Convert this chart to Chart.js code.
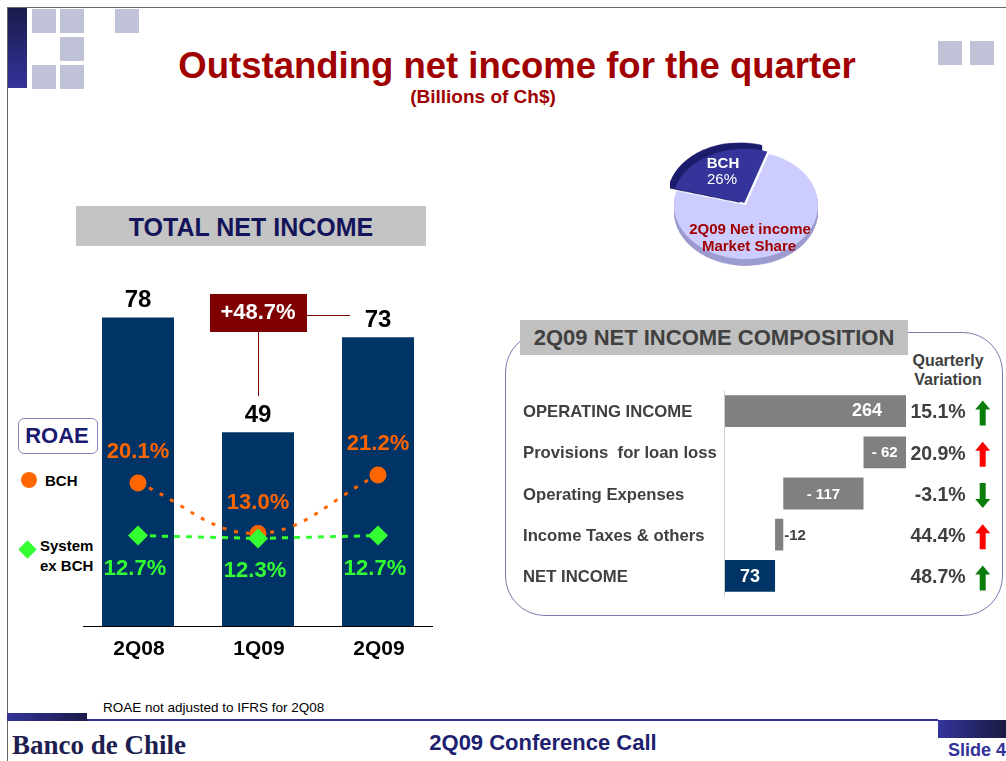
<!DOCTYPE html>
<html>
<head>
<meta charset="utf-8">
<script src="https://cdn.jsdelivr.net/npm/chart.js@4.4.0/dist/chart.umd.min.js"></script>
<style>
  body { margin: 0; background: #fff; }
  #slide { position: relative; width: 1006px; height: 761px; overflow: hidden; background: #fff;
           font-family: Arial, "Liberation Sans", sans-serif; }
  .abs { position: absolute; }
  .sq { position: absolute; width: 24px; height: 24px; background: #c0c2d8; }
  .t { position: absolute; transform: translate(-50%, -50%); white-space: nowrap; font-weight: bold; }
  .tl { position: absolute; transform: translateY(-50%); white-space: nowrap; }
  canvas { position: absolute; }
</style>
</head>
<body>
<div id="slide">
  <!-- frame and decoration -->
  <div class="abs" style="left:7px;top:7px;width:999px;height:1px;background:#666"></div>
  <div class="abs" style="left:7px;top:7px;width:1px;height:754px;background:#666"></div>
  <div class="abs" style="left:8px;top:8px;width:19px;height:80px;background:linear-gradient(#1a1a4a,#34349c)"></div>
  <div class="sq" style="left:32px;top:9px"></div>
  <div class="sq" style="left:60px;top:9px"></div>
  <div class="sq" style="left:115px;top:9px"></div>
  <div class="sq" style="left:60px;top:37px"></div>
  <div class="sq" style="left:32px;top:65px"></div>
  <div class="sq" style="left:60px;top:65px"></div>
  <div class="sq" style="left:938px;top:41px"></div>
  <div class="sq" style="left:970px;top:41px"></div>

  <div class="t" style="left:517px;top:66px;font-size:36.5px;color:#a00000">Outstanding net income for the quarter</div>
  <div class="t" style="left:483px;top:97px;font-size:19px;color:#a00000">(Billions of Ch$)</div>

  <!-- left block -->
  <div class="abs" style="left:76px;top:206px;width:350px;height:40px;background:#c4c4c4"></div>
  <div class="t" style="left:251px;top:227px;font-size:25px;color:#14145a">TOTAL NET INCOME</div>

  <div class="abs" style="left:18px;top:418px;width:78px;height:34px;border:1px solid #8888bb;border-radius:6px"></div>
  <div class="t" style="left:57px;top:436px;font-size:22px;color:#1a1a6e">ROAE</div>
  <div class="abs" style="left:21px;top:472px;width:16px;height:16px;border-radius:50%;background:#ff6600"></div>
  <div class="tl" style="left:45px;top:480px;font-size:15px;font-weight:bold">BCH</div>
  <div class="abs" style="left:21px;top:543px;width:13px;height:13px;background:#33ff33;transform:rotate(45deg)"></div>
  <div class="tl" style="left:40px;top:545px;font-size:15px;font-weight:bold">System</div>
  <div class="tl" style="left:40px;top:565px;font-size:15px;font-weight:bold">ex BCH</div>

  <canvas id="incomeChart" width="360" height="400" style="left:78px;top:270px"></canvas>

  <!-- pie -->
  <canvas id="shareChart" width="174" height="180" style="left:659px;top:118px;transform-origin:87px 87px;transform:scaleY(0.75)"></canvas>
  <div class="t" style="left:723px;top:162px;font-size:15px;color:#fff">BCH</div>
  <div class="t" style="left:722px;top:178px;font-size:15px;color:#fff;font-weight:normal">26%</div>
  <div class="t" style="left:750px;top:228px;font-size:15px;color:#a00000">2Q09 Net income</div>
  <div class="t" style="left:749px;top:245px;font-size:15px;color:#a00000">Market Share</div>

  <!-- composition block -->
  <div class="abs" style="left:505px;top:332px;width:496px;height:282px;border:1.5px solid #7a7ab0;border-radius:40px"></div>
  <div class="abs" style="left:520px;top:320px;width:388px;height:35px;background:#c0c0c0"></div>
  <div class="t" style="left:714px;top:338px;font-size:22px;color:#404040">2Q09 NET INCOME COMPOSITION</div>
  <div class="t" style="left:948px;top:361px;font-size:16px;color:#404040">Quarterly</div>
  <div class="t" style="left:948px;top:380px;font-size:16px;color:#404040">Variation</div>

  <canvas id="compChart" width="501" height="230" style="left:505px;top:380px"></canvas>

  <!-- footer -->
  <div class="tl" style="left:103px;top:707px;font-size:13.5px">ROAE not adjusted to IFRS for 2Q08</div>
  <div class="abs" style="left:7px;top:713px;width:80px;height:8px;background:linear-gradient(90deg,#34349c,#1a1a4a)"></div>
  <div class="abs" style="left:87px;top:719px;width:851px;height:2px;background:#333399"></div>
  <div class="abs" style="left:938px;top:720px;width:68px;height:18px;background:linear-gradient(90deg,#34349c,#1a1a40)"></div>
  <div class="tl" style="left:12px;top:745px;font-size:27px;font-weight:bold;color:#1e1e50;font-family:'Liberation Serif',serif">Banco de Chile</div>
  <div class="t" style="left:543px;top:743px;font-size:22px;color:#1f1f6f">2Q09 Conference Call</div>
  <div class="tl" style="left:948px;top:750px;font-size:18px;font-weight:bold;color:#333399">Slide 4</div>
</div>

<script>
// ---- data ----
var quarters = ["2Q08", "1Q09", "2Q09"];
var netIncome = [78, 49, 73];
var roaeBCH = [20.1, 13.0, 21.2];
var roaeSystem = [12.7, 12.3, 12.7];
var growthText = "+48.7%";

var shareLabels = ["BCH", "Others"];
var shareValues = [26, 74];

var compItems = ["OPERATING INCOME", "Provisions  for loan loss", "Operating Expenses", "Income Taxes & others", "NET INCOME"];
var compValues = [264, -62, -117, -12, 73];
var compText = ["264", "- 62", "- 117", "-12", "73"];
var compVariation = ["15.1%", "20.9%", "-3.1%", "44.4%", "48.7%"];
var varUp = [true, true, false, true, true];
var varGood = [true, false, true, false, true];

var FONT = "Arial, 'Liberation Sans', sans-serif";

// ---- left chart: bars + ROAE lines ----
var incomeLabels = {
  id: "incomeLabels",
  afterDatasetsDraw: function (chart) {
    var ctx = chart.ctx;
    var xs = chart.scales.x, ys = chart.scales.y, y1 = chart.scales.y1;
    var area = chart.chartArea;
    ctx.save();
    ctx.strokeStyle = "#000";
    ctx.lineWidth = 1;
    ctx.beginPath();
    ctx.moveTo(area.left + 5, area.bottom + 0.5);
    ctx.lineTo(area.right - 5, area.bottom + 0.5);
    ctx.stroke();

    ctx.textAlign = "center";
    ctx.textBaseline = "middle";
    quarters.forEach(function (q, i) {
      var x = xs.getPixelForValue(i);
      ctx.fillStyle = "#000";
      ctx.font = "bold 24px " + FONT;
      ctx.fillText(String(netIncome[i]), x, ys.getPixelForValue(netIncome[i]) - 17);
      ctx.font = "bold 21px " + FONT;
      ctx.fillText(q, x + 1, area.bottom + 23);
      ctx.font = "bold 22px " + FONT;
      ctx.fillStyle = "#ff6600";
      ctx.fillText(roaeBCH[i].toFixed(1) + "%", x, y1.getPixelForValue(roaeBCH[i]) - 31);
      ctx.fillStyle = "#33ff33";
      ctx.fillText(roaeSystem[i].toFixed(1) + "%", x - 3, y1.getPixelForValue(roaeSystem[i]) + 33);
    });

    // growth callout
    var cx = xs.getPixelForValue(1);
    var top = area.top + 24;
    ctx.fillStyle = "#7f0000";
    ctx.fillRect(cx - 48, top, 97, 38);
    ctx.strokeStyle = "#7f0000";
    ctx.beginPath();
    ctx.moveTo(cx + 49, top + 21.5);
    ctx.lineTo(cx + 92, top + 21.5);
    ctx.moveTo(cx + 0.5, top + 38);
    ctx.lineTo(cx + 0.5, ys.getPixelForValue(netIncome[1]) - 36);
    ctx.stroke();
    ctx.fillStyle = "#fff";
    ctx.font = "bold 22px " + FONT;
    ctx.fillText(growthText, cx, top + 19);
    ctx.restore();
  }
};

new Chart(document.getElementById("incomeChart"), {
  data: {
    labels: quarters,
    datasets: [
      {
        type: "line", label: "System ex BCH", data: roaeSystem, yAxisID: "y1",
        borderColor: "#33ff33", borderWidth: 3, borderDash: [6, 6],
        pointStyle: "rectRot", pointRadius: 10, pointBackgroundColor: "#33ff33",
        pointBorderWidth: 0, order: 0
      },
      {
        type: "line", label: "BCH", data: roaeBCH, yAxisID: "y1",
        borderColor: "#ff6600", borderWidth: 3, borderDash: [4, 8], tension: 0.4,
        pointRadius: 8.5, pointBackgroundColor: "#ff6600", pointBorderWidth: 0, order: 1
      },
      {
        type: "bar", label: "Net income", data: netIncome, yAxisID: "y",
        backgroundColor: "#003366", categoryPercentage: 0.6, barPercentage: 1, order: 2
      }
    ]
  },
  options: {
    responsive: false,
    animation: false,
    layout: { autoPadding: false, padding: { left: 0, right: 0, top: 0, bottom: 44 } },
    plugins: { legend: { display: false }, tooltip: { enabled: false } },
    scales: {
      x: { display: false },
      y: { display: false, min: 0, max: 90 },
      y1: { display: false, min: 0, max: 50 }
    }
  },
  plugins: [incomeLabels]
});

// ---- pie: market share ----
var pieDepth = {
  id: "pieDepth",
  beforeDatasetsDraw: function (chart) {
    var ctx = chart.ctx;
    var sideColors = ["#1c1c6c", "#9c9cd0"];
    chart.getDatasetMeta(0).data.forEach(function (arc, i) {
      var p = arc.getProps(["x", "y", "startAngle", "endAngle", "outerRadius"], true);
      var off = arc.options.offset || 0;
      var mid = (p.startAngle + p.endAngle) / 2;
      var x = p.x + Math.cos(mid) * off, y = p.y + Math.sin(mid) * off;
      ctx.save();
      ctx.fillStyle = sideColors[i];
      for (var d = 9; d > 0; d--) {
        ctx.beginPath();
        ctx.moveTo(x, y + d);
        ctx.arc(x, y + d, p.outerRadius, p.startAngle, p.endAngle);
        ctx.closePath();
        ctx.fill();
      }
      ctx.restore();
    });
  }
};

new Chart(document.getElementById("shareChart"), {
  type: "pie",
  data: {
    labels: shareLabels,
    datasets: [{
      data: shareValues,
      backgroundColor: ["#34349a", "#ccccff"],
      borderWidth: 0,
      offset: [14, 0]
    }]
  },
  options: {
    responsive: false,
    animation: false,
    rotation: -75,
    layout: { autoPadding: false, padding: { left: 8, right: 8, top: 8, bottom: 14 } },
    plugins: { legend: { display: false }, tooltip: { enabled: false } }
  },
  plugins: [pieDepth]
});

// ---- waterfall: net income composition ----
var running = 0;
var compBars = compValues.map(function (v, i) {
  if (i === compValues.length - 1) return [0, v];
  var seg = v >= 0 ? [running, running + v] : [running + v, running];
  running += v;
  return seg;
});

function drawArrow(ctx, x, y, up, color) {
  var s = up ? 1 : -1;
  ctx.fillStyle = color;
  ctx.beginPath();
  ctx.moveTo(x, y - 12.5 * s);
  ctx.lineTo(x + 7.5, y - 3.5 * s);
  ctx.lineTo(x + 3, y - 3.5 * s);
  ctx.lineTo(x + 3, y + 12.5 * s);
  ctx.lineTo(x - 3, y + 12.5 * s);
  ctx.lineTo(x - 3, y - 3.5 * s);
  ctx.lineTo(x - 7.5, y - 3.5 * s);
  ctx.closePath();
  ctx.fill();
}

var compDecor = {
  id: "compDecor",
  beforeDatasetsDraw: function (chart) {
    var ctx = chart.ctx, area = chart.chartArea;
    ctx.save();
    ctx.strokeStyle = "#cfcfcf";
    ctx.lineWidth = 1;
    ctx.beginPath();
    ctx.moveTo(area.left - 0.5, area.top);
    ctx.lineTo(area.left - 0.5, area.bottom);
    ctx.stroke();
    ctx.restore();
  },
  afterDatasetsDraw: function (chart) {
    var ctx = chart.ctx, area = chart.chartArea;
    ctx.save();
    ctx.textBaseline = "middle";
    chart.getDatasetMeta(0).data.forEach(function (bar, i) {
      var left = Math.min(bar.x, bar.base), right = Math.max(bar.x, bar.base);
      var cy = bar.y;
      ctx.textAlign = "left";
      ctx.fillStyle = "#404040";
      ctx.font = "bold 16.7px " + FONT;
      ctx.fillText(compItems[i], area.left - 202, cy + 1.5);

      ctx.font = (compValues[i] > 0 ? "bold 18px " : "bold 15px ") + FONT;
      var w = right - left;
      if (w < 20) {
        ctx.fillStyle = "#404040";
        ctx.fillText(compText[i], right + 1, cy + 1);
      } else if (w > 120) {
        ctx.fillStyle = "#fff";
        ctx.textAlign = "right";
        ctx.fillText(compText[i], right - 24, cy);
      } else {
        ctx.fillStyle = "#fff";
        ctx.textAlign = "center";
        ctx.fillText(compText[i], (left + right) / 2, cy + 1);
      }

      ctx.textAlign = "right";
      ctx.fillStyle = "#404040";
      ctx.font = "bold 19.5px " + FONT;
      ctx.fillText(compVariation[i], area.right + 35, cy + 2);
      drawArrow(ctx, area.right + 52, cy + 2, varUp[i], varGood[i] ? "#0a7d0a" : "#ff0000");
    });
    ctx.restore();
  }
};

new Chart(document.getElementById("compChart"), {
  type: "bar",
  data: {
    labels: compItems,
    datasets: [{
      data: compBars,
      backgroundColor: compValues.map(function (v, i) {
        return i === compValues.length - 1 ? "#003366" : "#808080";
      }),
      categoryPercentage: 1,
      barPercentage: 0.77
    }]
  },
  options: {
    indexAxis: "y",
    responsive: false,
    animation: false,
    layout: { autoPadding: false, padding: { left: 220, right: 75.3, top: 10.4, bottom: 13.4 } },
    plugins: { legend: { display: false }, tooltip: { enabled: false } },
    scales: {
      x: { display: false, min: 0, max: 300 },
      y: { display: false }
    }
  },
  plugins: [compDecor]
});
</script>
</body>
</html>
